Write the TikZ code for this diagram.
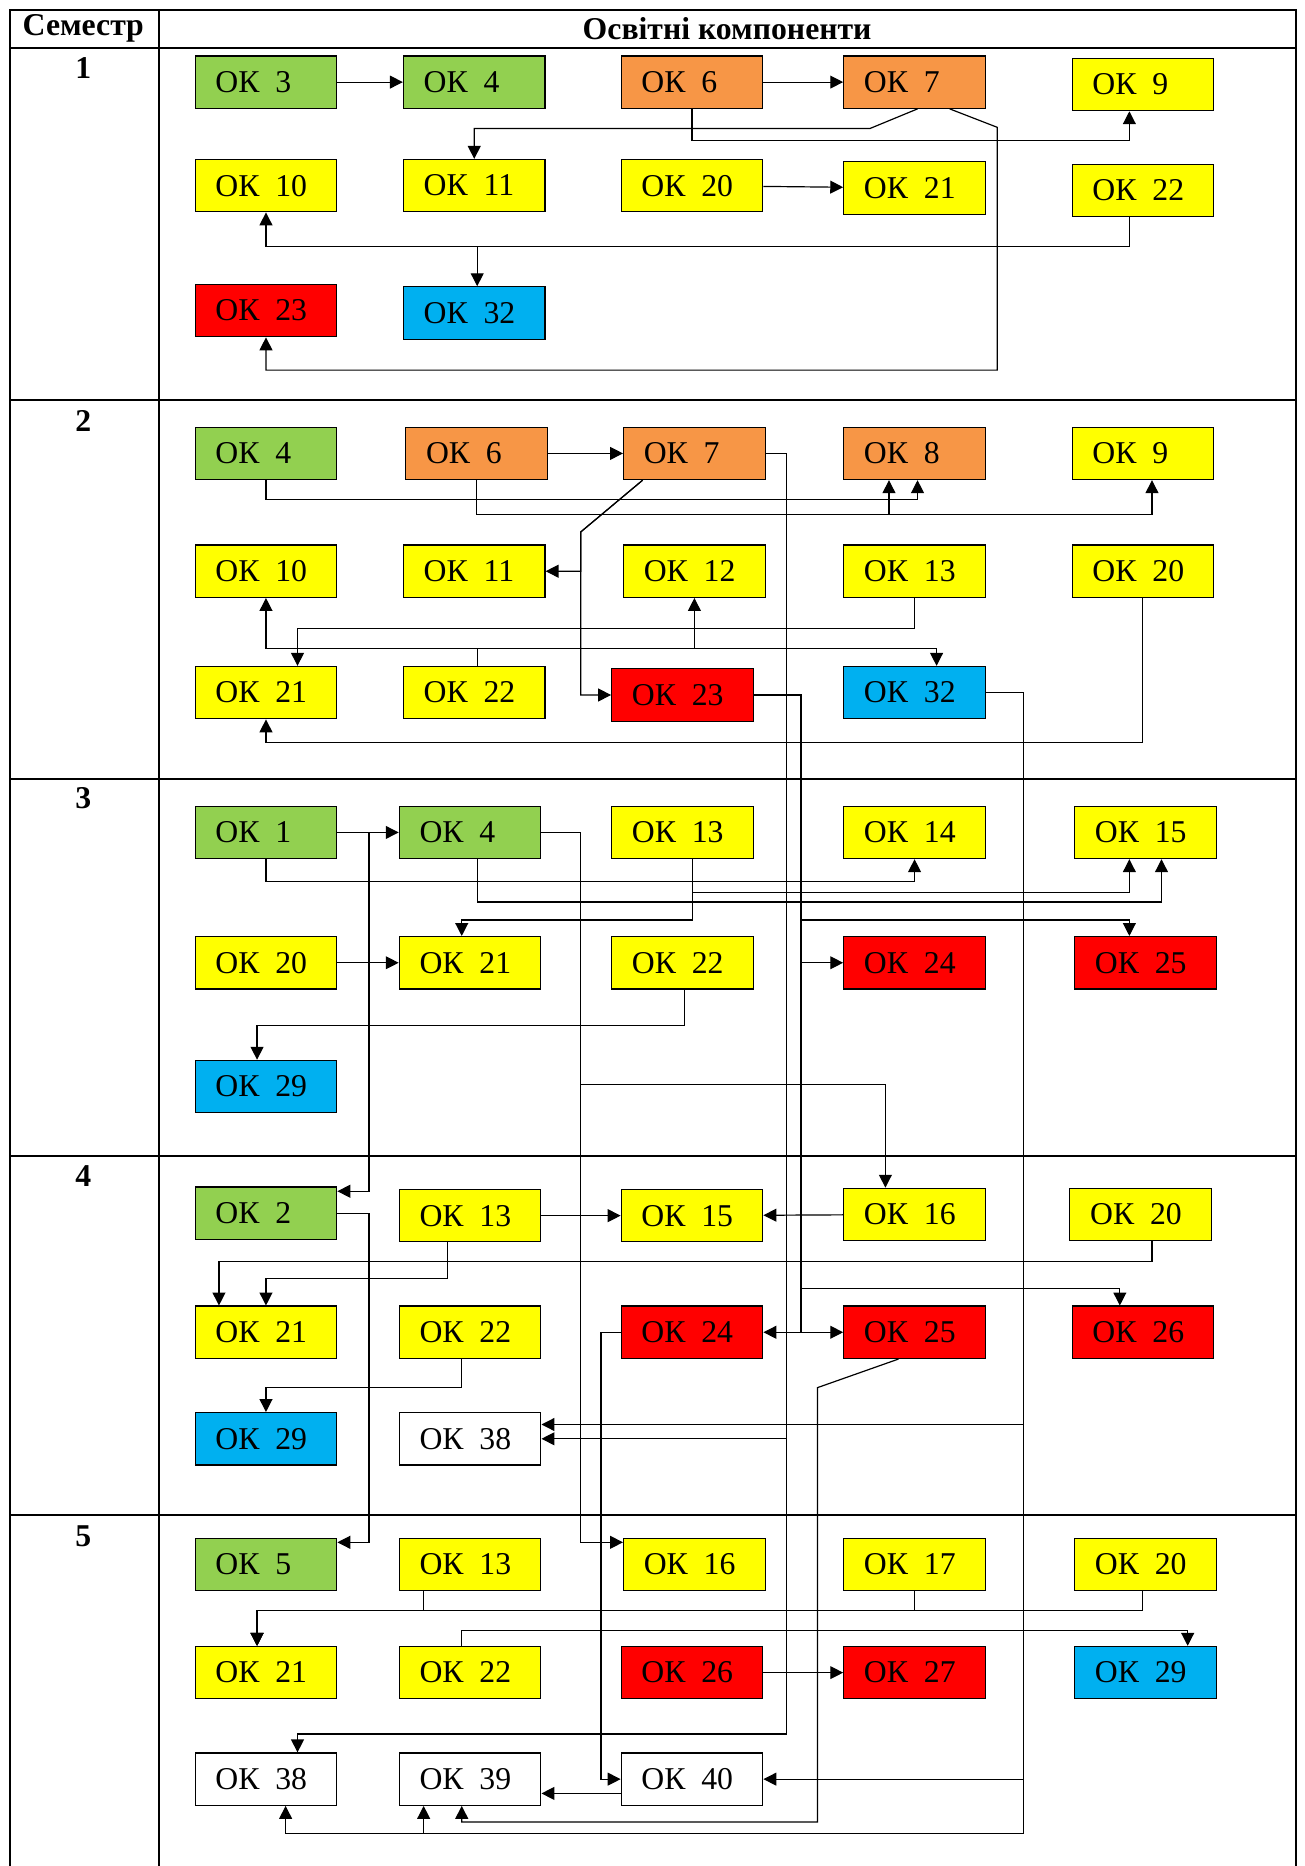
\documentclass[tikz,border=0pt]{standalone}
\usepackage{fontspec}
\setmainfont{Liberation Serif}
\usetikzlibrary{arrows.meta}
\definecolor{okgreen}{HTML}{92D050}
\definecolor{okorange}{HTML}{F79646}
\definecolor{okyellow}{HTML}{FFFF00}
\definecolor{okred}{HTML}{FF0000}
\definecolor{okblue}{HTML}{00B0F0}
\tikzset{
	okbox/.style={draw, rectangle, line width=0.6pt, minimum height=26.4pt, text width=51pt, inner xsep=10.2pt, inner ysep=0pt, align=left, font=\fontsize{16}{18}\selectfont},
	gbox/.style={okbox, fill=okgreen},
	obox/.style={okbox, fill=okorange},
	ybox/.style={okbox, fill=okyellow},
	rbox/.style={okbox, fill=okred},
	bbox/.style={okbox, fill=okblue},
	wbox/.style={okbox, fill=white},
	arr/.style={line width=0.6pt, -{Triangle[length=6.5pt,width=6.5pt]}},
	tbl/.style={line width=1pt},
	head/.style={font=\fontsize{16}{18}\selectfont\bfseries}
}
\begin{document}
\begin{tikzpicture}[x=0.6pt, y=-0.6pt]
			\useasboundingbox (0,0) rectangle (1096,1568);
			\draw[tbl] (8,1568) -- (8,8) -- (1089,8) -- (1089,1568)
			(134,8) -- (134,1568)
			(8,40) -- (1089,40)
			(8,336) -- (1089,336)
			(8,655) -- (1089,655)
			(8,971) -- (1089,971)
			(8,1273) -- (1089,1273);
			\node	(hsem) at (70,24) [head] {Семестр};
			\node	(hok) at (611,24) [head] {Освітні компоненти};
			\node	(n1) at (70,57) [head] {1};
			\node	(n2) at (70,354) [head] {2};
			\node	(n3) at (70,671) [head] {3};
			\node	(n4) at (70,988) [head] {4};
			\node	(n5) at (70,1291) [head] {5};
			
			\node	(s1ok3) at (223.5,69) [gbox] {ОК~\,3};
			\node	(s1ok4) at (398.5,69) [gbox] {ОК~\,4};
			\node	(s1ok6) at (581.5,69) [obox] {ОК~\,6};
			\node	(s1ok7) at (768.5,69) [obox] {ОК~\,7};
			\node	(s1ok9) at (960.5,71) [ybox] {ОК~\,9};
			\node	(s1ok10) at (223.5,156) [ybox] {ОК~\,10};
			\node	(s1ok11) at (398.5,156) [ybox] {ОК~\,11};
			\node	(s1ok20) at (581.5,156) [ybox] {ОК~\,20};
			\node	(s1ok21) at (768.5,158) [ybox] {ОК~\,21};
			\node	(s1ok22) at (960.5,160) [ybox] {ОК~\,22};
			\node	(s1ok23) at (223.5,261) [rbox] {ОК~\,23};
			\node	(s1ok32) at (398.5,263) [bbox] {ОК~\,32};
			
			\node	(s2ok4) at (223.5,381) [gbox] {ОК~\,4};
			\node	(s2ok6) at (400.5,381) [obox] {ОК~\,6};
			\node	(s2ok7) at (583.5,381) [obox] {ОК~\,7};
			\node	(s2ok8) at (768.5,381) [obox] {ОК~\,8};
			\node	(s2ok9) at (960.5,381) [ybox] {ОК~\,9};
			\node	(s2ok10) at (223.5,480) [ybox] {ОК~\,10};
			\node	(s2ok11) at (398.5,480) [ybox] {ОК~\,11};
			\node	(s2ok12) at (583.5,480) [ybox] {ОК~\,12};
			\node	(s2ok13) at (768.5,480) [ybox] {ОК~\,13};
			\node	(s2ok20) at (960.5,480) [ybox] {ОК~\,20};
			\node	(s2ok21) at (223.5,582) [ybox] {ОК~\,21};
			\node	(s2ok22) at (398.5,582) [ybox] {ОК~\,22};
			\node	(s2ok23) at (573.5,584) [rbox] {ОК~\,23};
			\node	(s2ok32) at (768.5,582) [bbox] {ОК~\,32};
			
			\node	(s3ok1) at (223.5,699.5) [gbox] {ОК~\,1};
			\node	(s3ok4) at (395,699.5) [gbox] {ОК~\,4};
			\node	(s3ok13) at (573.5,699.5) [ybox] {ОК~\,13};
			\node	(s3ok14) at (768.5,699.5) [ybox] {ОК~\,14};
			\node	(s3ok15) at (962.5,699.5) [ybox] {ОК~\,15};
			\node	(s3ok20) at (223.5,809) [ybox] {ОК~\,20};
			\node	(s3ok21) at (395,809) [ybox] {ОК~\,21};
			\node	(s3ok22) at (573.5,809) [ybox] {ОК~\,22};
			\node	(s3ok24) at (768.5,809) [rbox] {ОК~\,24};
			\node	(s3ok25) at (962.5,809) [rbox] {ОК~\,25};
			\node	(s3ok29) at (223.5,913) [bbox] {ОК~\,29};
			
			\node	(s4ok2) at (223.5,1019.5) [gbox] {ОК~\,2};
			\node	(s4ok13) at (395,1021.5) [ybox] {ОК~\,13};
			\node	(s4ok15) at (581.5,1021.5) [ybox] {ОК~\,15};
			\node	(s4ok16) at (768.5,1020.5) [ybox] {ОК~\,16};
			\node	(s4ok20) at (958.5,1020.5) [ybox] {ОК~\,20};
			\node	(s4ok21) at (223.5,1119.5) [ybox] {ОК~\,21};
			\node	(s4ok22) at (395,1119.5) [ybox] {ОК~\,22};
			\node	(s4ok24) at (581.5,1119.5) [rbox] {ОК~\,24};
			\node	(s4ok25) at (768.5,1119.5) [rbox] {ОК~\,25};
			\node	(s4ok26) at (960.5,1119.5) [rbox] {ОК~\,26};
			\node	(s4ok29) at (223.5,1209) [bbox] {ОК~\,29};
			\node	(s4ok38) at (395,1209) [wbox] {ОК~\,38};
			
			\node	(s5ok5) at (223.5,1314.5) [gbox] {ОК~\,5};
			\node	(s5ok13) at (395,1314.5) [ybox] {ОК~\,13};
			\node	(s5ok16) at (583.5,1314.5) [ybox] {ОК~\,16};
			\node	(s5ok17) at (768.5,1314.5) [ybox] {ОК~\,17};
			\node	(s5ok20) at (962.5,1314.5) [ybox] {ОК~\,20};
			\node	(s5ok21) at (223.5,1405.5) [ybox] {ОК~\,21};
			\node	(s5ok22) at (395,1405.5) [ybox] {ОК~\,22};
			\node	(s5ok26) at (581.5,1405.5) [rbox] {ОК~\,26};
			\node	(s5ok27) at (768.5,1405.5) [rbox] {ОК~\,27};
			\node	(s5ok29) at (962.5,1405.5) [bbox] {ОК~\,29};
			\node	(s5ok38) at (223.5,1495) [wbox] {ОК~\,38};
			\node	(s5ok39) at (395,1495) [wbox] {ОК~\,39};
			\node	(s5ok40) at (581.5,1495) [wbox] {ОК~\,40};
			
			\draw 
			(s1ok3) edge[arr] (s1ok4)
			(s1ok6) edge[arr] (s1ok7)
			(s1ok20) edge[arr] (s1ok21)
			(s2ok6) edge[arr] (s2ok7)
			(s3ok1) edge[arr] (s3ok4)
			(s3ok20) edge[arr] (s3ok21)
			(s4ok13) edge[arr] (s4ok15)
			(s4ok16) edge[arr] (s4ok15)
			(s5ok26) edge[arr] (s5ok27)
			;
			
			\draw[arr] (s1ok7.south -| 771,0) -- (731,108) -| (s1ok11.north);
			\draw[arr] (s1ok6.south) |- (949,118) -- (s1ok9.south -| 949,0);
			\draw[arr] (s1ok7.south -| 798,0) -- (838,107) -- (838,311) -| (s1ok23.south);
			\draw[arr] (s1ok22.south -| 949,0) |- (223.5,207) -- (s1ok10.south);
			\draw[arr] (s1ok22.south -| 949,0) |- (401,207) -- (s1ok32.north -| 401,0);
			
			\draw[arr] (s2ok4.south) |- (771,420) -- (s2ok8.south -| 771,0);
			\draw[arr] (s2ok6.south) |- (968,432) -- (s2ok9.south -| 968,0);
			\draw[arr] (s2ok6.south) |- (747,432) -- (s2ok8.south -| 747,0);
			\draw[arr] (s2ok7.south -| 540,0) -- (488,447) |- (s2ok11.east);
			\draw[arr] (s2ok7.south -| 540,0) -- (488,447) |- (s2ok23.west);
			\draw[arr] (s2ok13.south) |- (250,528) -- (s2ok21.north -| 250,0);
			\draw[arr] (s2ok22.north -| 401,0) |- (223.5,545) -- (s2ok10.south);
			\draw[arr] (s2ok22.north -| 401,0) |- (583.5,545) -- (s2ok12.south);
			\draw[arr] (s2ok22.north -| 401,0) |- (787,545) -- (s2ok32.north -| 787,0);
			\draw[arr] (s2ok20.south -| 960,0) |- (223.5,624) -- (s2ok21.south);
			\draw[arr] (s2ok7.east) -| (661,1209) -- (s4ok38.east);
			\draw[arr] (s2ok7.east) -| (661,1457) -| (s5ok38.north -| 250,0);
			\draw[arr] (s2ok23.east) -| (673,773) -| (s3ok25.north -| 949,0);
			\draw[arr] (s2ok23.east) -| (673,809) -- (s3ok24.west);
			\draw[arr] (s2ok23.east) -| (673,1083) -| (s4ok26.north -| 941,0);
			\draw[arr] (s2ok23.east) -| (673,1119.5) -- (s4ok24.east);
			\draw[arr] (s2ok23.east) -| (673,1119.5) -- (s4ok25.west);
			\draw[arr] (s2ok32.east) -| (860,1197) -- (s4ok38.east |- 0,1197);
			\draw[arr] (s2ok32.east) -| (860,1495) -- (s5ok40.east);
			\draw[arr] (s2ok32.east) -| (860,1541) -| (s5ok38.south -| 240,0);
			\draw[arr] (s2ok32.east) -| (860,1541) -| (s5ok39.south -| 356,0);
			
			\draw[arr] (s3ok1.east) -| (310,1001) -- (s4ok2.east |- 0,1001);
			\draw[arr] (s3ok1.south) |- (768.5,741) -- (s3ok14.south);
			\draw[arr] (s3ok4.south -| 401,0) |- (976,758) -- (s3ok15.south -| 976,0);
			\draw[arr] (s3ok13.south -| 582,0) |- (949,750) -- (s3ok15.south -| 949,0);
			\draw[arr] (s3ok13.south -| 582,0) |- (388,773) -- (s3ok21.north -| 388,0);
			\draw[arr] (s3ok22.south -| 575,0) |- (216,862) -- (s3ok29.north -| 216,0);
			\draw[arr] (s3ok4.east) -| (488,911) -| (s4ok16.north -| 744,0);
			\draw[arr] (s3ok4.east) -| (488,1296) -- (s5ok16.west |- 0,1296);
			
			\draw[arr] (s4ok13.south -| 376,0) |- (223.5,1074) -- (s4ok21.north);
			\draw[arr] (s4ok20.south -| 968,0) |- (184,1060) -- (s4ok21.north -| 184,0);
			\draw[arr] (s4ok22.south -| 388,0) |- (223.5,1166) -- (s4ok29.north);
			\draw[arr] (s4ok2.east) -| (310,1296) -- (s5ok5.east |- 0,1296);
			\draw[arr] (s4ok24.west) -| (505,1495) -- (s5ok40.west);
			\draw[arr] (s4ok25.south -| 755,0) -- (687,1166) |- (388,1531) -- (s5ok39.south -| 388,0);
			
			\draw[arr] (s5ok13.south -| 356,0) |- (216,1353) -- (s5ok21.north -| 216,0);
			\draw[arr] (s5ok17.south) |- (216,1353) -- (s5ok21.north -| 216,0);
			\draw[arr] (s5ok20.south -| 960,0) |- (216,1353) -- (s5ok21.north -| 216,0);
			\draw[arr] (s5ok22.north -| 388,0) |- (998,1370) -- (s5ok29.north -| 998,0);
			\draw[arr] (s5ok40.west |- 0,1507) -- (s5ok39.east |- 0,1507);
		\end{tikzpicture}
\end{document}
